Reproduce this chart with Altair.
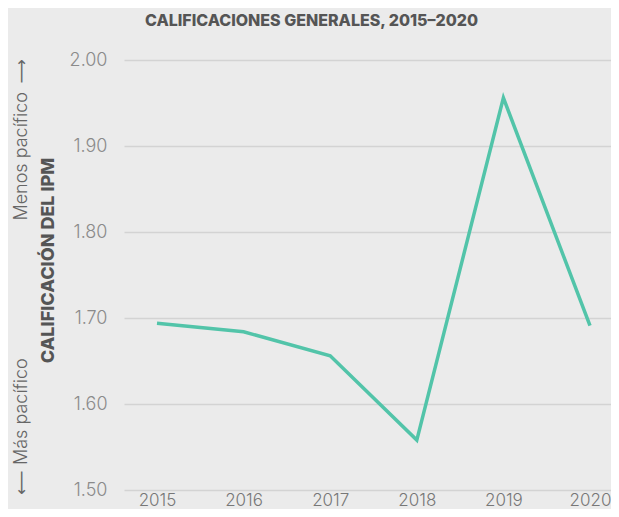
import altair as alt
import pandas as pd

years = [2015, 2016, 2017, 2018, 2019, 2020]
scores = [1.694, 1.684, 1.656, 1.558, 1.956, 1.691]
y_ticks = [1.5, 1.6, 1.7, 1.8, 1.9, 2.0]

df = pd.DataFrame({"year": years, "score": scores})
one = pd.DataFrame({"k": [0]})

FONT = "Inter, DejaVu Sans, sans-serif"
ARROW_FONT = "DejaVu Sans"

line = alt.Chart(df).mark_line(color="#52c4a9", strokeWidth=3.5).encode(
    x=alt.X("year:Q",
            scale=alt.Scale(domain=[2014.619, 2020.2425], nice=False, zero=False),
            axis=alt.Axis(values=years, format="d", grid=False, domain=False, ticks=False,
                          labelPadding=2, labelFontSize=17, labelFont=FONT, labelFontWeight=300,
                          labelColor="#777777", title=None, labelFlush=False)),
    y=alt.Y("score:Q",
            scale=alt.Scale(domain=[1.5, 2.0], nice=False, zero=False),
            axis=alt.Axis(values=y_ticks, format=".2f", grid=True, gridColor="#d3d3d3",
                          gridWidth=1.5, domain=False, ticks=False, labelPadding=17,
                          labelFontSize=18, labelFont=FONT, labelFontWeight=300,
                          labelColor="#8a8a8a",
                          title="CALIFICACIÓN DEL IPM", titleFont=FONT, titleFontSize=18,
                          titleFontWeight=800, titleColor="#555555", titleX=-76, titleY=200,
                          titleAngle=270, titleBaseline="middle", titleAlign="center")),
)

def rot_text(txt, y, align, font, size, weight=300):
    return alt.Chart(one).mark_text(
        angle=270, align=align, baseline="middle", font=font, fontSize=size,
        fontWeight=weight, color="#666666"
    ).encode(x=alt.value(-102), y=alt.value(y), text=alt.value(txt))

top_words = rot_text("Menos pacífico", 32, "right", FONT, 18)
top_arrow = rot_text("⟶", -1, "right", ARROW_FONT, 17, 400)
bot_words = rot_text("Más pacífico", 405, "left", FONT, 18)
bot_arrow = rot_text("⟵", 435, "left", ARROW_FONT, 17, 400)

chart = alt.layer(line, top_words, top_arrow, bot_words, bot_arrow).properties(
    width=487, height=430,
    autosize=alt.AutoSizeParams(type="none"),
    padding={"left": 116, "top": 52, "right": 0, "bottom": 19},
    background="#ebebeb",
    title=alt.TitleParams("CALIFICACIONES GENERALES, 2015–2020", font=FONT, fontSize=16,
                          fontWeight=800, color="#555555", anchor="middle", dx=-56,
                          offset=9, baseline="alphabetic"),
).configure_view(stroke=None)

chart.save("out.html", embed_options={"renderer": "svg", "actions": False})
